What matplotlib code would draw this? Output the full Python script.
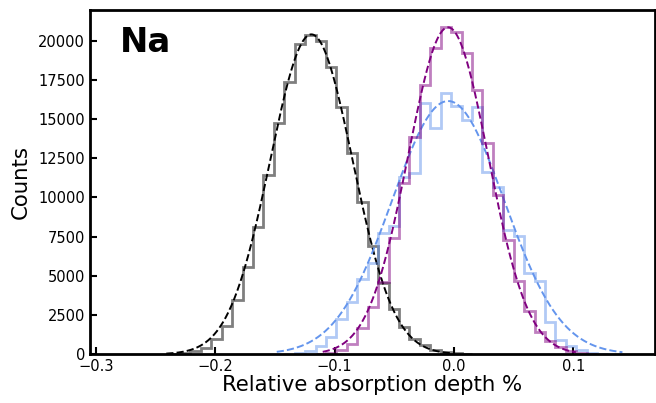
import matplotlib
matplotlib.use("Agg")
import matplotlib.pyplot as plt
import numpy as np

# shared histogram grid
BIN_START = -0.2820
BIN_WIDTH = 0.008735
N_BINS = 49

# counts per bin, index 0..48
counts_grey = np.zeros(N_BINS)
counts_grey[5:34] = [20, 70, 180, 395, 970, 1820, 3470, 5590, 8140, 11430,
                     14730, 17380, 19780, 20350, 19990, 18330, 15780, 12810,
                     9730, 6900, 4550, 2880, 1720, 980, 560, 290, 130, 50, 15]

counts_purple = np.zeros(N_BINS)
counts_purple[19:46] = [30, 110, 260, 680, 1650, 3000, 4600, 7400, 10900,
                        13870, 17170, 19520, 20900, 20560, 19200, 16850,
                        13450, 10160, 7290, 4640, 2730, 1450, 815, 440, 220,
                        80, 25]

counts_blue = np.zeros(N_BINS)
counts_blue[17:47] = [60, 180, 500, 1100, 2250, 3360, 4790, 5810, 7760, 8180,
                      11320, 11540, 16050, 14450, 16640, 15830, 14960, 15780,
                      11640, 10670, 7930, 7520, 5150, 4640, 2050, 880, 500,
                      240, 80, 25]

# gaussian fits: amplitude, mean, sigma, x-range
fit_grey = (20400, -0.1195, 0.0345, -0.241, -0.001)
fit_purple = (20850, -0.0050, 0.0335, -0.110, 0.102)
fit_blue = (16150, -0.0050, 0.0470, -0.1485, 0.141)

edges = BIN_START + BIN_WIDTH * np.arange(N_BINS + 1)

fig = plt.figure(figsize=(6.56, 4.03), dpi=100)
ax = fig.add_axes([0.137, 0.121, 0.861, 0.854])


def draw(counts, fit, color):
    nz = np.nonzero(counts)[0]
    lo, hi = nz[0], nz[-1] + 1
    ax.hist(edges[lo:hi], bins=edges[lo:hi + 1], weights=counts[lo:hi],
            histtype="step", color=color, alpha=0.5, lw=2)
    amp, mu, sig, x0, x1 = fit
    xx = np.linspace(x0, x1, 300)
    ax.plot(xx, amp * np.exp(-0.5 * ((xx - mu) / sig) ** 2), "--",
            color=color, lw=1.4)


draw(counts_grey, fit_grey, "black")
draw(counts_blue, fit_blue, "cornflowerblue")
draw(counts_purple, fit_purple, "purple")

ax.set_xlim(-0.305, 0.168)
ax.set_ylim(0, 21950)
ax.set_xticks([-0.3, -0.2, -0.1, 0.0, 0.1])
ax.set_yticks(np.arange(0, 20001, 2500))
ax.tick_params(direction="in", length=5, width=1.5, labelsize=10.5)
for s in ax.spines.values():
    s.set_linewidth(2)
ax.set_xlabel("Relative absorption depth %", fontsize=15.3, labelpad=1)
ax.set_ylabel("Counts", fontsize=15.3, labelpad=5)
ax.text(0.053, 0.907, "Na", transform=ax.transAxes, fontsize=24.5,
        fontweight="bold", ha="left", va="center")

fig.savefig("out.png", dpi=100)
